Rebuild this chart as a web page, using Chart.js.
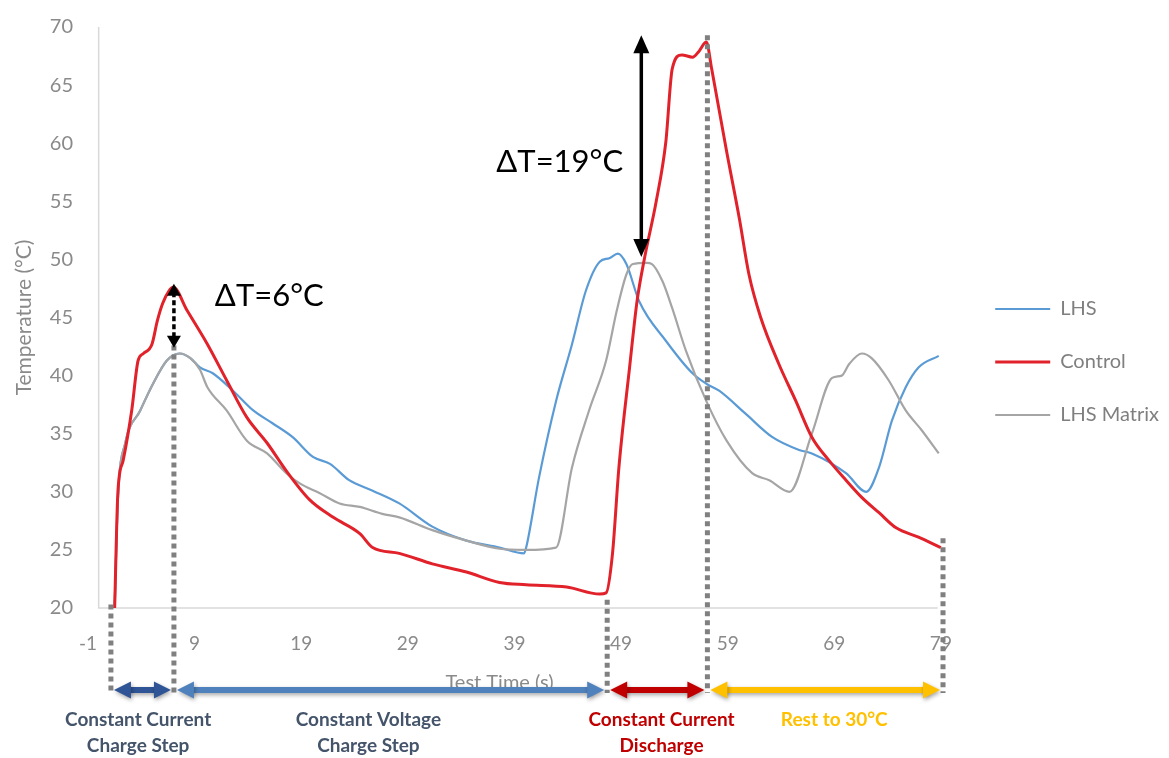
<!DOCTYPE html>
<html><head><meta charset="utf-8">
<script src="https://cdn.jsdelivr.net/npm/chart.js@4/dist/chart.umd.min.js"></script>
<style>html,body{margin:0;padding:0;background:#fff;overflow:hidden}#wrap{width:1169px;height:758px}</style>
</head><body><div id="wrap"><canvas id="c" width="1169" height="758"></canvas></div>
<script>
// ---- data ----
const seriesNames = ['LHS', 'Control', 'LHS Matrix'];
const controlTime = [1.5,1.8,2.3,3.1,3.7,4.2,5.0,5.5,6.0,6.6,7.0,8.3,10.2,12.0,13.9,15.8,17.6,19.8,22.0,24.5,25.7,28.2,31.3,34.5,37.6,40.1,43.9,47.0,47.6,48.2,48.8,49.8,50.5,51.2,52.3,53.2,53.8,54.7,55.7,56.3,57.0,57.5,58.9,60.1,61.0,62.1,63.8,65.4,66.9,68.5,70.1,71.6,73.2,74.8,76.9,79.0];
const controlTemp = [20.0,29.9,32.7,37.0,41.3,41.9,42.7,44.7,46.2,47.3,47.6,45.6,42.7,39.6,36.4,34.2,31.8,29.3,27.8,26.4,25.2,24.7,23.8,23.1,22.2,22.0,21.8,21.2,21.3,24.7,32.1,40.7,46.4,50.1,55.0,60.1,66.4,67.6,67.4,67.9,68.7,66.4,59.3,53.5,48.7,45.0,41.0,37.8,34.7,32.7,31.0,29.5,28.2,26.9,26.1,25.2];
const lhsTime = [1.5,1.8,2.5,3.9,5.1,6.4,7.6,8.6,9.5,10.7,12.6,14.5,16.3,18.2,20.1,21.7,23.5,25.7,28.2,31.3,34.5,37.6,39.9,40.1,41.3,42.9,44.4,45.7,47.0,47.9,48.7,49.5,50.7,53.2,55.7,57.0,58.2,60.7,63.2,65.7,66.9,70.1,72.0,73.2,74.4,75.7,76.9,78.8];
const lhsTemp = [20.0,29.3,34.2,37.0,39.3,41.3,41.9,41.5,40.7,40.2,38.7,37.0,35.9,34.7,33.0,32.4,31.0,30.1,29.0,27.0,25.8,25.2,24.7,25.2,31.2,37.8,42.7,47.3,49.8,50.1,50.5,49.6,46.4,43.0,40.2,39.3,38.7,36.7,34.7,33.6,33.3,31.6,30.0,32.1,36.1,39.0,40.7,41.7];
const matrixTime = [1.5,1.8,2.5,3.9,5.1,6.4,7.6,8.6,9.5,10.2,12.0,13.9,15.8,17.6,18.9,20.7,22.6,24.5,26.6,28.2,31.3,34.5,37.6,40.1,42.9,44.4,46.0,47.6,48.6,49.5,50.1,51.4,51.9,52.9,53.8,55.1,57.0,58.9,61.3,62.9,64.8,66.9,68.8,69.7,70.4,71.6,72.5,74.1,75.7,77.2,78.8];
const matrixTemp = [20.0,29.3,34.2,37.0,39.3,41.3,41.9,41.5,40.5,39.0,37.0,34.4,33.3,31.6,30.7,29.9,29.0,28.7,28.1,27.8,26.7,25.8,25.1,25.0,25.2,32.1,37.0,41.3,45.6,48.7,49.6,49.7,49.6,48.1,45.8,42.1,37.8,34.4,31.6,31.0,30.0,35.0,39.8,40.0,41.0,41.9,41.5,39.6,37.0,35.3,33.3];
const xTickLabels = [-1, 9, 19, 29, 39, 49, 59, 69, 79];
const yTickLabels = [20, 25, 30, 35, 40, 45, 50, 55, 60, 65, 70];
// test phases (time boundaries, names)
const phaseEdges = [1.15, 7.06, 47.7, 57.1, 79.2];
const phaseEdgeTemps = [20.3, 42.6, 20.7, 69.3, 26.0];
const phaseNames = [['Constant Current', 'Charge Step'], ['Constant Voltage', 'Charge Step'], ['Constant Current', 'Discharge'], ['Rest to 30°C']];
const phaseLabelTimes = [3.7, 25.3, 52.8, 69.0];
const deltaTexts = ['ΔT=6°C', 'ΔT=19°C'];

const pts = (t, v) => t.map((x, i) => ({x, y: v[i]}));
const LABEL_GRAY = '#8a8a8a';

function arrow(ctx, x1, y1, x2, y2, o) {
  const ang = Math.atan2(y2 - y1, x2 - x1);
  const len = Math.hypot(x2 - x1, y2 - y1);
  ctx.save();
  ctx.translate(x1, y1); ctx.rotate(ang);
  ctx.strokeStyle = o.color; ctx.fillStyle = o.color;
  ctx.lineWidth = o.width;
  if (o.shadow) { ctx.shadowColor = 'rgba(0,0,0,0.35)'; ctx.shadowBlur = 4; ctx.shadowOffsetX = 1; ctx.shadowOffsetY = 2; }
  if (o.dash) ctx.setLineDash(o.dash);
  ctx.beginPath(); ctx.moveTo(o.head * 0.7, 0); ctx.lineTo(len - o.head * 0.7, 0); ctx.stroke();
  ctx.setLineDash([]);
  ctx.beginPath(); ctx.moveTo(0, 0); ctx.lineTo(o.head, -o.headW / 2); ctx.lineTo(o.head, o.headW / 2); ctx.closePath(); ctx.fill();
  ctx.beginPath(); ctx.moveTo(len, 0); ctx.lineTo(len - o.head, -o.headW / 2); ctx.lineTo(len - o.head, o.headW / 2); ctx.closePath(); ctx.fill();
  ctx.restore();
}

const annotations = {
  id: 'annotations',
  beforeDatasetsDraw(chart) {
    const {ctx, scales: {x, y}} = chart;
    ctx.save();
    ctx.strokeStyle = '#d9d9d9'; ctx.lineWidth = 1.5;
    ctx.beginPath();
    ctx.moveTo(x.getPixelForValue(0), y.getPixelForValue(70));
    ctx.lineTo(x.getPixelForValue(0), y.getPixelForValue(20));
    ctx.lineTo(x.getPixelForValue(78.7), y.getPixelForValue(20));
    ctx.stroke();
    ctx.restore();
  },
  afterDatasetsDraw(chart) {
    const {ctx, chartArea, scales: {x, y}} = chart;
    const yArrow = chartArea.bottom + 82;
    const yLineEnd = chartArea.bottom + 85;
    // dotted phase boundaries
    ctx.save();
    ctx.strokeStyle = '#808080'; ctx.lineWidth = 5; ctx.setLineDash([5, 4]);
    phaseEdges.forEach((t, i) => {
      const px = x.getPixelForValue(t);
      ctx.beginPath(); ctx.moveTo(px, y.getPixelForValue(phaseEdgeTemps[i])); ctx.lineTo(px, yLineEnd); ctx.stroke();
    });
    ctx.restore();
    // delta T arrows
    arrow(ctx, x.getPixelForValue(7.06), y.getPixelForValue(47.9), x.getPixelForValue(7.06), y.getPixelForValue(42.4),
      {color: '#000', width: 3.5, head: 12, headW: 14, dash: [5, 3]});
    arrow(ctx, x.getPixelForValue(50.9), y.getPixelForValue(69.3), x.getPixelForValue(50.9), y.getPixelForValue(50.2),
      {color: '#000', width: 3.5, head: 18, headW: 16});
    ctx.save();
    ctx.fillStyle = '#000'; ctx.font = '31px Lato'; ctx.textAlign = 'left'; ctx.textBaseline = 'middle';
    ctx.fillText(deltaTexts[0], x.getPixelForValue(10.9), y.getPixelForValue(46.85));
    ctx.fillText(deltaTexts[1], x.getPixelForValue(37.3), y.getPixelForValue(58.4));
    ctx.restore();
    // phase arrows
    const phaseColors = ['#2f5597', '#4f81bd', '#c00000', '#ffc000'];
    const textColors = ['#44546a', '#44546a', '#c00000', '#ffc000'];
    for (let i = 0; i < 4; i++) {
      const a = x.getPixelForValue(phaseEdges[i]) + 3, b = x.getPixelForValue(phaseEdges[i + 1]) - 3;
      arrow(ctx, a, yArrow, b, yArrow, {color: phaseColors[i], width: 6, head: 17, headW: 17, shadow: true});
      ctx.save();
      ctx.fillStyle = textColors[i]; ctx.font = 'bold 19px Lato'; ctx.textAlign = 'center'; ctx.textBaseline = 'middle';
      phaseNames[i].forEach((line, j) => ctx.fillText(line, x.getPixelForValue(phaseLabelTimes[i]), chartArea.bottom + 112 + j * 26));
      ctx.restore();
    }
  }
};

const lineStyle = {pointRadius: 0, cubicInterpolationMode: 'monotone'};
new Chart(document.getElementById('c'), {
  type: 'line',
  data: {
    datasets: [
      {label: seriesNames[0], data: pts(lhsTime, lhsTemp), borderColor: '#5b9bd5', backgroundColor: '#5b9bd5', borderWidth: 2.2, order: 2, ...lineStyle},
      {label: seriesNames[1], data: pts(controlTime, controlTemp), borderColor: '#e1222b', backgroundColor: '#e1222b', borderWidth: 3, order: 0, ...lineStyle},
      {label: seriesNames[2], data: pts(matrixTime, matrixTemp), borderColor: '#a5a5a5', backgroundColor: '#a5a5a5', borderWidth: 2.2, order: 1, ...lineStyle}
    ]
  },
  options: {
    responsive: false, animation: false, devicePixelRatio: 1,
    layout: {padding: {top: 25, right: 0, bottom: 0, left: 0}},
    plugins: {
      tooltip: {enabled: false},
      legend: {
        position: 'right', align: 'start',
        title: {display: true, text: ' ', font: {size: 10}, padding: {top: 0, bottom: 229}},
        labels: {
          usePointStyle: true, pointStyle: 'line', pointStyleWidth: 55,
          padding: 33, color: '#7f7f7f', font: {family: 'Lato', size: 20},
          sort: (a, b) => a.datasetIndex - b.datasetIndex
        }
      }
    },
    scales: {
      x: {
        type: 'linear', min: -1, max: 81,
        afterBuildTicks: s => { s.ticks = xTickLabels.map(v => ({value: v})); },
        afterFit: s => { s.height = 150; },
        grid: {display: false, drawTicks: false}, border: {display: false},
        ticks: {padding: 24, color: LABEL_GRAY, font: {family: 'Lato', size: 19}, maxRotation: 0, autoSkip: false},
        title: {display: true, text: 'Test Time (s)' + '\u00a0'.repeat(10), color: LABEL_GRAY, font: {family: 'Lato', size: 20}, padding: {top: 0, bottom: 63}}
      },
      y: {
        min: 20, max: 70,
        afterBuildTicks: s => { s.ticks = yTickLabels.map(v => ({value: v})); },
        afterFit: s => { s.width = 88; },
        grid: {display: false, drawTicks: false}, border: {display: false},
        ticks: {padding: 15, color: LABEL_GRAY, font: {family: 'Lato', size: 20}},
        title: {display: true, text: 'Temperature (°C)', color: LABEL_GRAY, font: {family: 'Lato', size: 21}, padding: {top: 12, bottom: 0}}
      }
    }
  },
  plugins: [annotations]
});
</script></body></html>
